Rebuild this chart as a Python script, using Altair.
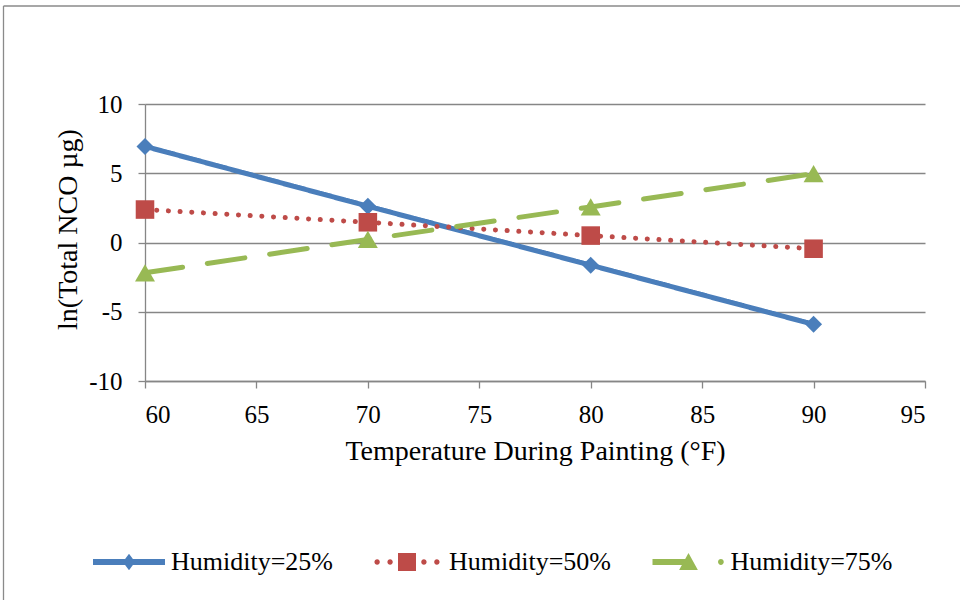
import altair as alt
import pandas as pd

temps = [60, 70, 80, 90]
series_names = ["Humidity=25%", "Humidity=50%", "Humidity=75%"]
h25 = [6.94, 2.62, -1.64, -5.91]
h50 = [2.38, 1.46, 0.50, -0.45]
h75 = [-2.19, 0.22, 2.57, 4.97]
x_ticks = [60, 65, 70, 75, 80, 85, 90, 95]
y_ticks = [-10, -5, 0, 5, 10]
colors = ["#4A7EBB", "#BE4B48", "#98B954"]
dashes = [[1, 0], [0.1, 11.6], [38, 25]]
marker_shapes = ["diamond", "square", "triangle-up"]
marker_sizes = [289, 400, 450]

FONT = "Liberation Serif"
GRID = "#868686"

rows = []
for name, vals in zip(series_names, [h25, h50, h75]):
    for t, v in zip(temps, vals):
        rows.append({"temp": t, "value": v, "series": name})
df = pd.DataFrame(rows)


def circ(cx, r):
    return f"M{cx - r},0A{r},{r} 0 1,0 {cx + r},0A{r},{r} 0 1,0 {cx - r},0Z"


legend_paths = [
    "M-1,-0.08L1,-0.08L1,0.08L-1,0.08Z M0,-0.23L0.17,0L0,0.23L-0.17,0Z",
    circ(-0.83, 0.075) + circ(-0.47, 0.075) + circ(0.47, 0.075) + circ(0.83, 0.075)
    + "M-0.25,-0.25L0.25,-0.25L0.25,0.25L-0.25,0.25Z",
    "M-1,-0.08L0,-0.08L0,0.08L-1,0.08Z M0,-0.25L0.26,0.22L-0.26,0.22Z" + circ(0.9, 0.08),
]
legend_x = [-52, 226, 507.5]

x_enc = alt.X(
    "temp:Q",
    scale=alt.Scale(domain=[60, 95], nice=False, zero=False),
    axis=alt.Axis(
        values=x_ticks, grid=False, title="Temperature During Painting (°F)",
        tickSize=7, labelPadding=14, titlePadding=10, labelExpr="datum.value",
        labelFont=FONT, labelFontWeight="normal", labelFontSize=25,
        titleFont=FONT, titleFontSize=28,
    ),
)
y_enc = alt.Y(
    "value:Q",
    scale=alt.Scale(domain=[-10, 10], nice=False, zero=False),
    axis=alt.Axis(
        values=y_ticks, grid=True, title="ln(Total NCO µg)",
        tickSize=7, labelPadding=16, labelExpr="datum.value",
        labelFont=FONT, labelFontWeight="normal", labelFontSize=25,
        titleFont=FONT, titleFontSize=28,
        titleX=-69, titleY=125, titleAngle=270, titleBaseline="alphabetic",
        titleAlign="center",
    ),
)
color_scale = alt.Scale(domain=series_names, range=colors)

lines = alt.Chart(df).mark_line(strokeWidth=5, strokeCap="round").encode(
    x=x_enc,
    y=y_enc,
    color=alt.Color("series:N", scale=color_scale, legend=None),
    strokeDash=alt.StrokeDash(
        "series:N", scale=alt.Scale(domain=series_names, range=dashes), legend=None
    ),
)

points = alt.Chart(df).mark_point(filled=True, opacity=1).encode(
    x="temp:Q",
    y="value:Q",
    color=alt.Color("series:N", scale=color_scale, legend=None),
    shape=alt.Shape(
        "series:N", scale=alt.Scale(domain=series_names, range=marker_shapes), legend=None
    ),
    size=alt.Size(
        "series:N", scale=alt.Scale(domain=series_names, range=marker_sizes), legend=None
    ),
)

legend_layers = []
for name, col, path, lx in zip(series_names, colors, legend_paths, legend_x):
    leg = alt.Legend(
        title=None, orient="none", direction="horizontal", legendX=lx, legendY=422,
        symbolSize=5184, symbolStrokeWidth=0, symbolOpacity=1, labelOffset=6,
        padding=0, labelFont=FONT, labelFontWeight="normal", labelFontSize=26,
        labelColor="black", labelLimit=0, symbolOffset=0,
    )
    legend_layers.append(
        alt.Chart(df[df["series"] == name]).mark_point(
            filled=True, opacity=0, color=col
        ).encode(
            x="temp:Q",
            y="value:Q",
            shape=alt.Shape("series:N", scale=alt.Scale(domain=[name], range=[path]), legend=leg),
        )
    )

frame_top = alt.Chart(alt.Data(values=[{}])).mark_rule(
    color="#8A8A8A", strokeWidth=1.3
).encode(x=alt.value(-141.5), x2=alt.value(815), y=alt.value(-98))
frame_left = alt.Chart(alt.Data(values=[{}])).mark_rule(
    color="#8A8A8A", strokeWidth=1.3
).encode(x=alt.value(-141.5), y=alt.value(-98), y2=alt.value(496))

chart = (
    alt.layer(frame_top, frame_left, lines, points, *legend_layers)
    .resolve_scale(shape="independent")
    .resolve_legend(shape="independent")
    .properties(
        width=780, height=277,
        autosize=alt.AutoSizeParams(type="none"),
        padding={"left": 145, "top": 104, "right": 35, "bottom": 219},
        background="white",
    )
    .configure_view(stroke=None)
    .configure_axis(
        labelColor="black", labelFont=FONT,
        titleFont=FONT, titleFontWeight="normal", titleColor="black",
        domainColor=GRID, domainWidth=1.3, tickColor=GRID, tickWidth=1.3,
        gridColor=GRID, gridWidth=1.3, labelOverlap=False,
    )
    .configure_legend(labelFont=FONT)
)

chart.save("out.html", embed_options={"renderer": "svg", "actions": False})
